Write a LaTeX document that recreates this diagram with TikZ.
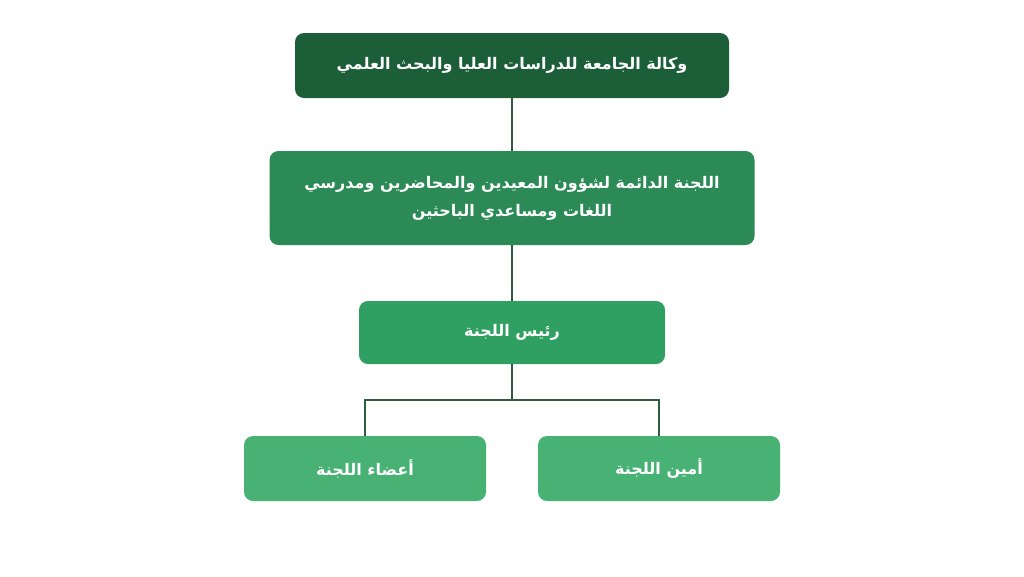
\documentclass[tikz,border=0pt]{standalone}
\usepackage{fontspec}
\newfontfamily\arabicfont[Script=Arabic]{DejaVu Sans}
\TeXXeTstate=1
\newcommand{\ar}[1]{\beginR #1\endR}
\begin{document}
\begin{tikzpicture}[x=1pt,y=-1pt]
\useasboundingbox (0,0) rectangle (1024,576);
\definecolor{c1}{HTML}{1B5E38}\definecolor{c2}{HTML}{2B8A55}
\definecolor{c3}{HTML}{30A062}\definecolor{c4}{HTML}{48B275}
\definecolor{ln}{HTML}{2E5E40}
\tikzset{box/.style={rounded corners=9pt,text=white,align=center,font=\arabicfont\bfseries\fontsize{16}{28}\selectfont,inner sep=0pt},
  link/.style={draw=ln,line width=1.3pt}}
\node[box,fill=c1,minimum width=434pt,minimum height=65pt] (a) at (512,65.5) {\ar{وكالة الجامعة للدراسات العليا والبحث العلمي}};
\node[box,fill=c2,minimum width=485pt,minimum height=94pt] (b) at (512,198) {\ar{اللجنة الدائمة لشؤون المعيدين والمحاضرين ومدرسي}\\\ar{اللغات ومساعدي الباحثين}};
\node[box,fill=c3,minimum width=306pt,minimum height=63pt] (c) at (512,332.5) {\ar{رئيس اللجنة}};
\node[box,fill=c4,minimum width=242pt,minimum height=65pt] (d) at (365,468.5) {\ar{أعضاء اللجنة}};
\node[box,fill=c4,minimum width=242pt,minimum height=65pt] (e) at (659,468.5) {\ar{أمين اللجنة}};
\coordinate (j) at (512,400);
\draw[link] (a.south) -- (b.north);
\draw[link] (b.south) -- (c.north);
\draw[link] (c.south) -- (j);
\draw[link] (d.north) |- (j) -| (e.north);
\end{tikzpicture}
\end{document}
